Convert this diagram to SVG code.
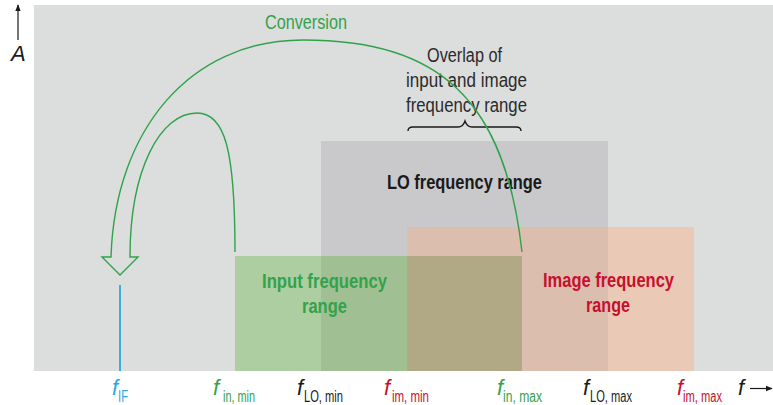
<svg xmlns="http://www.w3.org/2000/svg" width="773" height="405" viewBox="0 0 773 405">
<defs>
<style>
text{font-family:"Liberation Sans",Arial,sans-serif}
.lt{font-size:20px;fill:#2b2b2b}
.bold{font-size:21px;font-weight:bold}
.f{font-size:22px;font-style:italic}
.sub{font-size:16px}
.green{fill:#33a24c}
.red{fill:#c8102e}
.blk{fill:#1a1a1a}
.blue{fill:#29a9df}
</style>
<marker id="ah" viewBox="0 0 10 10" refX="9" refY="5" markerWidth="7" markerHeight="7" orient="auto" markerUnits="userSpaceOnUse">
<path d="M0,1 L10,5 L0,9 z" fill="#1a1a1a"/>
</marker>
</defs>
<g id="background"><rect x="34" y="5" width="739" height="366" fill="#dcdddd"/></g>
<g id="lo-range">
<rect x="321" y="141" width="287" height="230" fill="#c9c9cb"/>
<text class="bold blk" x="387" y="189" textLength="155" lengthAdjust="spacingAndGlyphs">LO frequency range</text>
</g>
<g id="image-range">
<rect x="407" y="227" width="287" height="144" fill="#eacab6"/>
<rect x="407" y="227" width="201" height="144" fill="#dbbeae"/>
</g>
<g id="input-range">
<rect x="235" y="256" width="287" height="115" fill="#adcea0"/>
<rect x="321" y="256" width="86" height="115" fill="#a0c093"/>
<rect x="407" y="256" width="115" height="115" fill="#b1a986"/>
<text class="bold green" x="262" y="288" textLength="125" lengthAdjust="spacingAndGlyphs">Input frequency</text>
<text class="bold green" x="302" y="313" textLength="45" lengthAdjust="spacingAndGlyphs">range</text>
</g>
<g id="image-label">
<text class="bold red" x="543" y="287" textLength="131" lengthAdjust="spacingAndGlyphs">Image frequency</text>
<text class="bold red" x="586" y="312" textLength="44" lengthAdjust="spacingAndGlyphs">range</text>
</g>
<g id="overlap-label">
<text class="lt" x="427" y="62" textLength="75" lengthAdjust="spacingAndGlyphs">Overlap of</text>
<text class="lt" x="406" y="87" textLength="121" lengthAdjust="spacingAndGlyphs">input and image</text>
<text class="lt" x="406" y="112" textLength="121" lengthAdjust="spacingAndGlyphs">frequency range</text>
<path d="M408,131 Q408,127 413,127 L458,127 Q463,127 465,121 Q467,127 472,127 L516,127 Q521,127 521,131" fill="none" stroke="#1a1a1a" stroke-width="1.4"/>
</g>
<g id="connectors">
<path d="M522,252 C505,100 440,40 303,40 C190,40 115,130 111,257 L102,257 L120,275 L138,257 L130,257 C130,170 160,113 197,113 C225,113 235,150 235,252" fill="none" stroke="#2ea34a" stroke-width="1.4" stroke-linejoin="miter"/>
<text class="green" x="265" y="29" font-size="20" textLength="82" lengthAdjust="spacingAndGlyphs">Conversion</text>
</g>
<g id="if-marker"><line x1="120" y1="285" x2="120" y2="371" stroke="#3ab0e2" stroke-width="2"/></g>
<g id="axes">
<line x1="18" y1="40" x2="18" y2="5" stroke="#1a1a1a" stroke-width="1.2" marker-end="url(#ah)"/>
<text class="f blk" x="11" y="61">A</text>
<line x1="750" y1="388.5" x2="772" y2="388.5" stroke="#1a1a1a" stroke-width="1.2" marker-end="url(#ah)"/>
<text class="f blk" x="738" y="395">f</text>
</g>
<g id="freq-labels">
<text class="f blue" x="112" y="395">f</text><text class="sub blue" x="118" y="402" textLength="10" lengthAdjust="spacingAndGlyphs">IF</text>
<text class="f green" x="213" y="395">f</text><text class="sub green" x="223" y="402" textLength="32" lengthAdjust="spacingAndGlyphs">in, min</text>
<text class="f blk" x="297" y="395">f</text><text class="sub blk" x="304" y="402" textLength="39" lengthAdjust="spacingAndGlyphs">LO, min</text>
<text class="f red" x="384" y="395">f</text><text class="sub red" x="392" y="402" textLength="37" lengthAdjust="spacingAndGlyphs">im, min</text>
<text class="f green" x="497" y="395">f</text><text class="sub green" x="503" y="402" textLength="39" lengthAdjust="spacingAndGlyphs">in, max</text>
<text class="f blk" x="583" y="395">f</text><text class="sub blk" x="590" y="402" textLength="42" lengthAdjust="spacingAndGlyphs">LO, max</text>
<text class="f red" x="677" y="395">f</text><text class="sub red" x="683" y="402" textLength="39" lengthAdjust="spacingAndGlyphs">im, max</text>
</g>
</svg>
